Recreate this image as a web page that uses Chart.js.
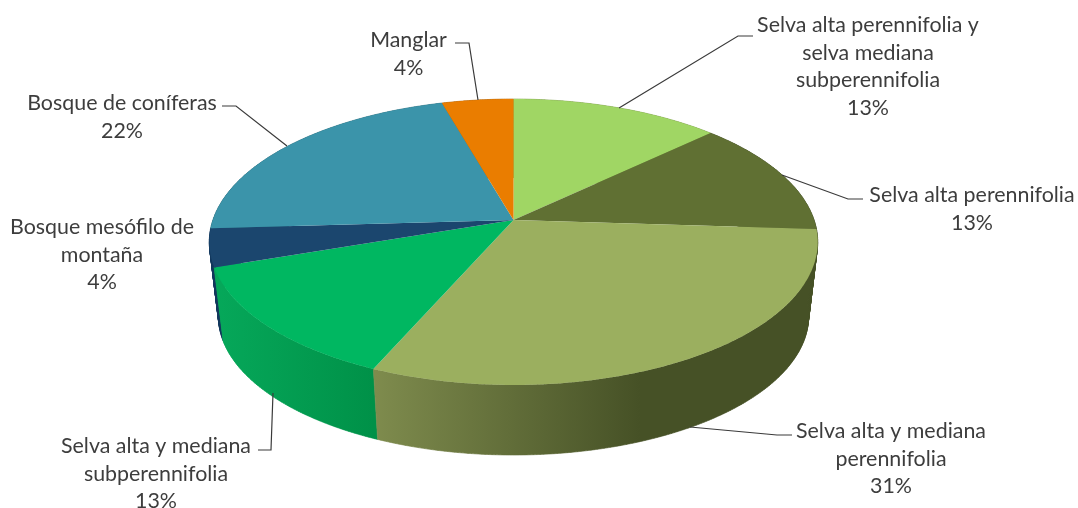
<!DOCTYPE html>
<html><head><meta charset="utf-8">
<style>html,body{margin:0;padding:0;background:#fff}canvas{display:block}</style>
<script src="https://cdn.jsdelivr.net/npm/chart.js@4"></script>
</head><body><canvas id="c" width="1078" height="508"></canvas>
<script>
const categories = ['Selva alta perennifolia y selva mediana subperennifolia','Selva alta perennifolia','Selva alta y mediana perennifolia','Selva alta y mediana subperennifolia','Bosque mesófilo de montaña','Bosque de coníferas','Manglar'];
const values = [12.9,13.1,30.5,13.2,4.3,21.5,4.4];
const percentLabels = ['13%','13%','31%','13%','4%','22%','4%'];
const topColors = ['#A0D664','#607033','#9BAF5F','#00B761','#1B466E','#3B94AA','#EA7D00'];
const wallFrom = ['#7F9F4C','#475228','#7E8B4D','#06A85A','#12375C','#2B7080','#B06000'];
const wallTo = ['#7F9F4C','#475228','#465126','#009148','#12375C','#2B7080','#B06000'];
const labelLines = [['Selva alta perennifolia y','selva mediana','subperennifolia'],['Selva alta perennifolia'],['Selva alta y mediana','perennifolia'],['Selva alta y mediana','subperennifolia'],['Bosque mesófilo de','montaña'],['Bosque de coníferas'],['Manglar']];
const labelX = [868,972,891,156,102,122,408.5];
const labelY = [25,195,431,446,227,103,40];
const leaders = [[[619,108],[738,36],[753,36]],[[782,175],[848,199],[863,199]],[[690,427],[777,435],[792,435]],[[273,393],[271,450],[258,450]],null,[[287,146],[236,106],[222,106]],[[478,100],[469,43],[455,43]]];

const P = {x0:513.5,y0:220,A:300.6,B:139.6,p:0.1538,dy:75,s:0.97,step:0.01};
function proj(a,wall){
  const u=Math.cos(a),v=Math.sin(a),k=1/(1-P.p*v),s=wall?P.s:1;
  return [P.x0+s*P.A*u*k, P.y0+(wall?P.dy:0)+s*P.B*v*k];
}
function wallGradient(ctx,i,a0,a1){
  let minX=1e9,maxX=-1e9;
  for(let a=a0;a<=a1;a+=P.step){const x=proj(a,false)[0];minX=Math.min(minX,x);maxX=Math.max(maxX,x);}
  const isBig=i===2;
  const g=ctx.createLinearGradient(minX,0,isBig?640:maxX,0);
  g.addColorStop(0,wallFrom[i]);g.addColorStop(1,wallTo[i]);
  return g;
}
const pie3d={
  id:'pie3d',
  beforeDatasetDraw(chart,args){
    const ctx=chart.ctx, arcs=chart.getDatasetMeta(args.index).data;
    ctx.save();
    const order=arcs.map((e,i)=>i).sort((a,b)=>Math.sin((arcs[a].startAngle+arcs[a].endAngle)/2)-Math.sin((arcs[b].startAngle+arcs[b].endAngle)/2));
    order.forEach(i=>{
      const a0=arcs[i].startAngle,a1=arcs[i].endAngle;
      const grad=wallGradient(ctx,i,a0,a1);
      ctx.beginPath();
      const n=Math.max(2,Math.ceil((a1-a0)/P.step));
      for(let k=0;k<n;k++){
        const b0=a0+(a1-a0)*k/n,b1=a0+(a1-a0)*(k+1)/n;
        const t0=proj(b0,false),t1=proj(b1,false),w0=proj(b0,true),w1=proj(b1,true);
        ctx.moveTo(t0[0],t0[1]);ctx.lineTo(t1[0],t1[1]);ctx.lineTo(w1[0],w1[1]);ctx.lineTo(w0[0],w0[1]);ctx.closePath();
      }
      ctx.fillStyle=grad;ctx.fill();
      ctx.strokeStyle=grad;ctx.lineWidth=0.6;ctx.stroke();
    });
    arcs.forEach((el,i)=>{
      const a0=el.startAngle,a1=el.endAngle,n=Math.ceil((a1-a0)/P.step);
      ctx.beginPath();ctx.moveTo(P.x0,P.y0);
      for(let k=0;k<=n;k++){const q=proj(a0+(a1-a0)*k/n,false);ctx.lineTo(q[0],q[1]);}
      ctx.closePath();
      ctx.fillStyle=el.options.backgroundColor;ctx.fill();
    });
    ctx.restore();
    return false;
  },
  afterDatasetsDraw(chart){
    const ctx=chart.ctx;
    ctx.save();
    ctx.strokeStyle='#3a3a3a';ctx.lineWidth=1.2;
    leaders.forEach(l=>{
      if(!l)return;
      ctx.beginPath();l.forEach((q,k)=>k?ctx.lineTo(q[0],q[1]):ctx.moveTo(q[0],q[1]));ctx.stroke();
    });
    ctx.fillStyle='#3d3d3d';ctx.font='21.4px Lato';ctx.textAlign='center';ctx.textBaseline='middle';
    labelLines.forEach((lines,i)=>{
      lines.concat(percentLabels[i]).forEach((t,k)=>ctx.fillText(t,labelX[i],labelY[i]+k*27.7));
    });
    ctx.restore();
  }
};
new Chart(document.getElementById('c'),{
  type:'pie',
  data:{labels:categories,datasets:[{data:values,backgroundColor:topColors,borderWidth:0}]},
  options:{responsive:false,animation:false,layout:{padding:0},plugins:{legend:{display:false},tooltip:{enabled:false}}},
  plugins:[pie3d]
});
</script></body></html>
